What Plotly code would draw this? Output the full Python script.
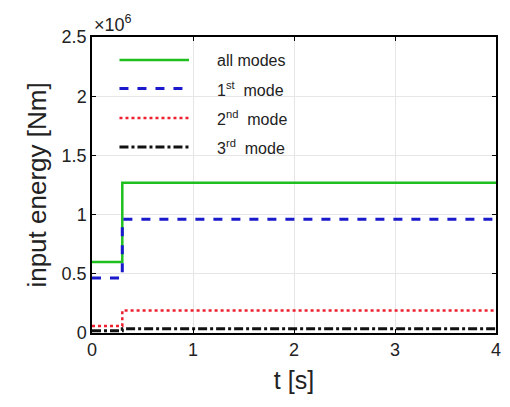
import plotly.graph_objects as go

t = [0, 0.3, 0.3, 4]
all_modes = [0.60, 0.60, 1.27, 1.27]
mode1 = [0.465, 0.465, 0.96, 0.96]
mode2 = [0.06, 0.06, 0.19, 0.19]
mode3 = [0.02, 0.02, 0.036, 0.036]
names = ["all modes", "1<sup>st</sup>  mode", "2<sup>nd</sup>  mode", "3<sup>rd</sup>  mode"]
colors = ["#1fbf1f", "#1a1acc", "#ee2030", "#111111"]
dashes = ["solid", "dash", "dot", "dashdot"]
widths = [2.5, 3, 2.5, 3]
series = [all_modes, mode1, mode2, mode3]

fig = go.Figure()
for name, ys, c, d, w in zip(names, series, colors, dashes, widths):
    fig.add_trace(go.Scatter(x=t, y=ys, mode="lines", name=name, showlegend=False,
                             line=dict(color=c, width=w, dash=d)))

# manual legend (longer sample lines as in the reference)
leg_y = [0.922, 0.826, 0.726, 0.628]
for name, c, d, w, yy in zip(names, colors, dashes, widths, leg_y):
    fig.add_shape(type="line", xref="paper", yref="paper", x0=0.068, x1=0.24, y0=yy, y1=yy,
                  line=dict(color=c, width=w, dash=d))
    fig.add_annotation(xref="paper", yref="paper", x=0.305, y=yy, xanchor="left", yanchor="middle",
                       text=name, showarrow=False, font=dict(size=16, color="#222"))

axis_common = dict(showline=True, linecolor="black", linewidth=1.5, mirror="ticks",
                   ticks="inside", ticklen=4, tickcolor="black",
                   showgrid=True, gridcolor="#e6e6e6", gridwidth=1, zeroline=False,
                   tickfont=dict(size=18, color="#222"))
fig.update_layout(
    width=510, height=407,
    margin=dict(l=92, r=9, t=37, b=74),
    paper_bgcolor="white", plot_bgcolor="white",
    font=dict(family="Liberation Sans, Arial, sans-serif", color="#222"),
    xaxis=dict(range=[0, 4], dtick=1, title=dict(text="t [s]", font=dict(size=25), standoff=12), **axis_common),
    yaxis=dict(range=[0, 2.5], dtick=0.5, title=dict(text="input energy [Nm]", font=dict(size=26), standoff=8), **axis_common),
    showlegend=False,
)
fig.add_annotation(xref="paper", yref="paper", x=0.0, y=1.0, xanchor="left", yanchor="bottom",
                   text="×10<sup>6</sup>", showarrow=False, font=dict(size=18), yshift=0)
fig.write_html("out.html")
